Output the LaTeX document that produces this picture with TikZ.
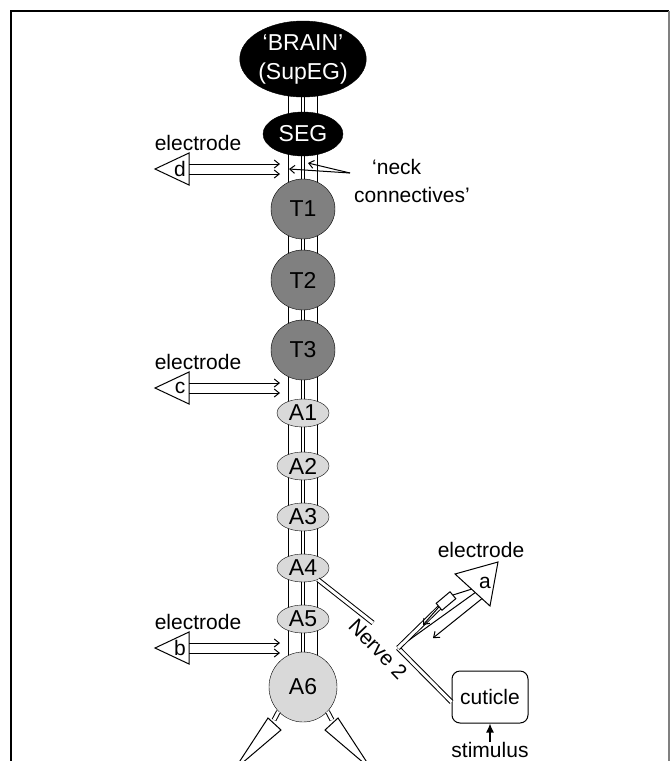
\documentclass[tikz,border=0pt]{standalone}
\usepackage{fontspec}
\setmainfont{Liberation Sans}
\usetikzlibrary{arrows.meta,calc,shapes.geometric}
\definecolor{tgray}{RGB}{128,128,128}
\definecolor{agray}{RGB}{217,217,217}
\pgfdeclarelayer{bg}
\pgfsetlayers{bg,main}
\begin{document}
\begin{tikzpicture}[x=1pt,y=-1pt,line width=1.1pt,
  txt/.style={font=\fontsize{21}{28}\selectfont, inner sep=0},
  gtxt/.style={font=\fontsize{23}{29}\selectfont, inner sep=0},
  gang/.style={ellipse, draw=black, inner sep=0, gtxt},
  brainst/.style={gang, fill=black, text=white, align=center},
  tst/.style={gang, fill=tgray, minimum width=64, minimum height=60},
  ast/.style={gang, fill=agray, minimum width=52, minimum height=28},
  tube/.style={draw=black, fill=white, line width=1pt},
  elin/.style={-{Straight Barb[length=5pt,width=8pt]}, line width=1pt},
  dtube/.style={double=white, double distance=3pt, line width=1pt},
  eltri/.style={draw=black, fill=white, line width=1pt},
]
\useasboundingbox (0,0) rectangle (672,761);
\clip (0,0) rectangle (672,761);
\begin{pgfonlayer}{bg}
\fill[white] (0,0) rectangle (672,761);
\end{pgfonlayer}
% frame
\draw[line width=1.2pt] (11,761) -- (11,11) -- (669,11);
\draw[gray, line width=1.6pt] (669,11) -- (669,761);

% ganglia
\node[brainst, minimum width=94, minimum height=76] (brain) at (303,59) {‘BRAIN’\\(SupEG)};
\node[brainst, minimum width=80, minimum height=44] (seg) at (303,134) {SEG};
\node[tst] (t1) at (303,209) {T1};
\node[tst] (t2) at (303,280) {T2};
\node[tst] (t3) at (303,350) {T3};
\node[ast] (a1) at (303,413) {A1};
\node[ast] (a2) at (303,466) {A2};
\node[ast] (a3) at (303,517) {A3};
\node[ast] (a4) at (303,568) {A4};
\node[ast] (a5) at (303,619) {A5};
\node[gang, fill=agray, minimum width=68, minimum height=70] (a6) at (303,687) {A6};

% connectives
\begin{pgfonlayer}{bg}
\draw[tube] ($(brain.south)+(-15,-6)$) rectangle ($(a6.north)+(-2,6)$);
\draw[tube] ($(brain.south)+(1,-6)$) rectangle ($(a6.north)+(14,6)$);
\end{pgfonlayer}

% left electrodes d, c, b
\foreach \n/\y in {d/169, c/388, b/648} {
  \draw[eltri] (189,\y-16) -- (155,\y) -- (189,\y+16) -- cycle;
  \node[txt] (e\n) at (180,\y) {\n};
  \node[txt, anchor=base] (lab\n) at (198,\y-19) {electrode};
  \draw[elin] (189,\y-5) -- (280,\y-5);
  \draw[elin] (189,\y+5) -- (280,\y+5);
}

% neck connectives pointer
\coordinate (neckP) at (350,173);
\draw[elin] (neckP) -- (308,163);
\draw[elin] (neckP) -- (289,169);
\node[txt, anchor=west, align=left] (neck) at (354,181) {\hspace*{18pt}‘neck\\connectives’};

% nerve 2
\coordinate (J) at (398,648);
\draw[dtube] (a4.-38) -- (373,623);
\node[txt, rotate=-46] (nerve) at (378,649) {Nerve 2};
\node[txt, draw, rounded corners=8pt, minimum width=76, minimum height=52, line width=1pt] (cut) at (490,697) {cuticle};
\draw[dtube] (J) -- ($(cut.west)+(0,5)$);
\node[txt, anchor=base] (stim) at (490,757) {stimulus};
\draw[-{Latex[length=9pt,width=8pt]}, line width=1.3pt] (stim.north) -- (cut.south);

% electrode a
\draw[line width=1pt] (J) -- (476,592);
\draw[dtube] (J) -- (444,603);
\node[draw, fill=white, rotate=40, minimum width=18, minimum height=9, inner sep=0, line width=1pt] (slv) at (446,601) {};
\draw[line width=1pt] (slv.east) -- (472,589);
\draw[elin] (slv.west) -- (423,625);
\draw[elin] (484,597) -- (433,638);
\draw[eltri] (455,574) -- (498,562) -- (490,606) -- cycle;
\node[txt] (ea) at (485,583) {a};
\node[txt, anchor=base] (laba) at (481,557) {electrode};

% A6 legs
\draw[dtube] (a6.-135) -- (274,720);
\draw[eltri] (268,718) -- (281,730) -- (234,770) -- cycle;
\draw[dtube] (a6.-45) -- (332,720);
\draw[eltri] (338,718) -- (325,730) -- (372,770) -- cycle;
\end{tikzpicture}
\end{document}
